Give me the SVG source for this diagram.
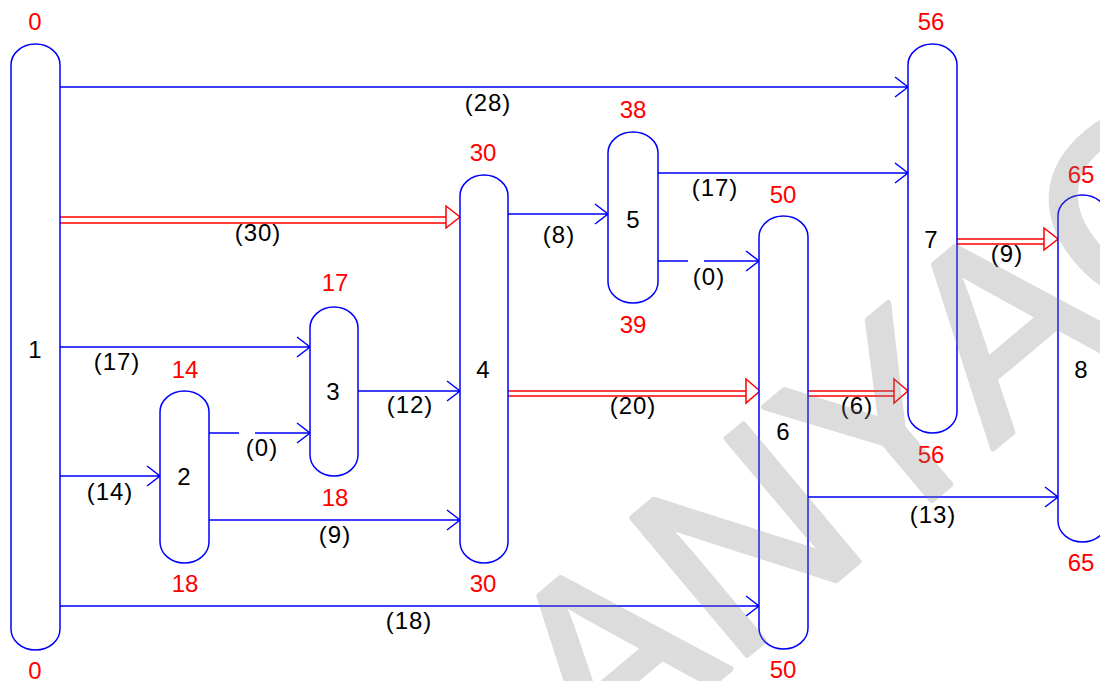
<svg xmlns="http://www.w3.org/2000/svg" width="1100" height="681" viewBox="0 0 1100 681">
<defs>
<style>
.node{fill:#fff;stroke:#0000ff;stroke-width:1.5}
.e{fill:none;stroke:#0000ff;stroke-width:1.5}
.d{fill:none;stroke:#0000ff;stroke-width:1.5;stroke-dasharray:30 16 400}
.r{fill:none;stroke:#ff0000;stroke-width:1.5}
.rh{fill:#fff;stroke:#ff0000;stroke-width:1.5}
.lbl{font-family:"Liberation Sans",Arial,sans-serif;font-size:24px;fill:#000;text-anchor:middle;letter-spacing:1px}
.nl{font-family:"Liberation Sans",Arial,sans-serif;font-size:24px;fill:#000;text-anchor:middle}
.t{font-family:"Liberation Sans",Arial,sans-serif;font-size:24px;fill:#ff0000;text-anchor:middle}
.wm{font-family:"Liberation Sans",Arial,sans-serif;font-size:260px;fill:#808080;stroke:#808080;stroke-width:6;stroke-linejoin:round}
</style>
</defs>
<rect width="1100" height="681" fill="#fff"/>
<g id="connectors">
<path class="e" d="M60,87 H908 M895,77 L908,87 L895,97"/>
<path class="r" d="M60,217 H446 M60,223 H446"/>
<path class="rh" d="M446,206 L460,217 L446,228 Z"/>
<path class="e" d="M60,347 H310 M297,337 L310,347 L297,357"/>
<path class="e" d="M60,476 H160 M147,466 L160,476 L147,486"/>
<path class="e" d="M60,606 H759 M746,596 L759,606 L746,616"/>
<path class="d" d="M209,433 H310"/>
<path class="e" d="M297,423 L310,433 L297,443"/>
<path class="e" d="M209,520 H460 M447,510 L460,520 L447,530"/>
<path class="e" d="M358,391 H460 M447,381 L460,391 L447,401"/>
<path class="e" d="M508,214 H608 M595,204 L608,214 L595,224"/>
<path class="r" d="M508,391 H746 M508,396 H746"/>
<path class="rh" d="M746,379 L760,391 L746,403 Z"/>
<path class="e" d="M658,173 H908 M895,163 L908,173 L895,183"/>
<path class="d" d="M658,261 H759"/>
<path class="e" d="M746,251 L759,261 L746,271"/>
<path class="r" d="M808,391 H894 M808,396 H894"/>
<path class="rh" d="M894,379 L908,391 L894,403 Z"/>
<path class="r" d="M957,239 H1044 M957,244 H1044"/>
<path class="rh" d="M1044,228 L1058,239 L1044,250 Z"/>
<path class="e" d="M808,497 H1058 M1045,487 L1058,497 L1045,507"/>
<text class="lbl" x="488" y="111">(28)</text>
<text class="lbl" x="258" y="241">(30)</text>
<text class="lbl" x="117" y="370">(17)</text>
<text class="lbl" x="110" y="500">(14)</text>
<text class="lbl" x="409" y="629">(18)</text>
<text class="lbl" x="262" y="456">(0)</text>
<text class="lbl" x="335" y="543">(9)</text>
<text class="lbl" x="410" y="413">(12)</text>
<text class="lbl" x="559" y="243">(8)</text>
<text class="lbl" x="633" y="414">(20)</text>
<text class="lbl" x="715" y="196">(17)</text>
<text class="lbl" x="709" y="285">(0)</text>
<text class="lbl" x="857" y="414">(6)</text>
<text class="lbl" x="1007" y="262">(9)</text>
<text class="lbl" x="933" y="523">(13)</text>
</g>
<g id="n1"><path class="node" d="M11,65 A24.5,21 0 0 1 60,65 V629 A24.5,21 0 0 1 11,629 Z"/><text class="nl" x="35" y="358">1</text><text class="t" x="35" y="30">0</text><text class="t" x="35" y="679">0</text></g>
<g id="n2"><path class="node" d="M160,412 A24.5,21 0 0 1 209,412 V542 A24.5,21 0 0 1 160,542 Z"/><text class="nl" x="184" y="485">2</text><text class="t" x="185" y="378">14</text><text class="t" x="185" y="592">18</text></g>
<g id="n3"><path class="node" d="M310,328 A24,21 0 0 1 358,328 V455 A24,21 0 0 1 310,455 Z"/><text class="nl" x="333" y="400">3</text><text class="t" x="335" y="291">17</text><text class="t" x="335" y="506">18</text></g>
<g id="n4"><path class="node" d="M460,196 A24,21 0 0 1 508,196 V542 A24,21 0 0 1 460,542 Z"/><text class="nl" x="483" y="378">4</text><text class="t" x="483" y="161">30</text><text class="t" x="483" y="592">30</text></g>
<g id="n5"><path class="node" d="M608,153 A25,21 0 0 1 658,153 V282 A25,21 0 0 1 608,282 Z"/><text class="nl" x="633" y="228">5</text><text class="t" x="633" y="118">38</text><text class="t" x="633" y="333">39</text></g>
<g id="n6"><path class="node" d="M759,237 A24.5,21 0 0 1 808,237 V628 A24.5,21 0 0 1 759,628 Z"/><text class="nl" x="783" y="440">6</text><text class="t" x="783" y="203">50</text><text class="t" x="783" y="678">50</text></g>
<g id="n7"><path class="node" d="M908,65 A24.5,21 0 0 1 957,65 V412 A24.5,21 0 0 1 908,412 Z"/><text class="nl" x="931" y="248">7</text><text class="t" x="931" y="30">56</text><text class="t" x="931" y="463">56</text></g>
<g id="n8"><path class="node" d="M1058,216 A24.5,21 0 0 1 1107,216 V521 A24.5,21 0 0 1 1058,521 Z"/><text class="nl" x="1081" y="378">8</text><text class="t" x="1081" y="183">65</text><text class="t" x="1081" y="571">65</text></g>
<g id="watermark" opacity="0.27"><text class="wm" transform="translate(598,780) rotate(-40)" x="0" y="0">ANYAO</text></g>
</svg>
